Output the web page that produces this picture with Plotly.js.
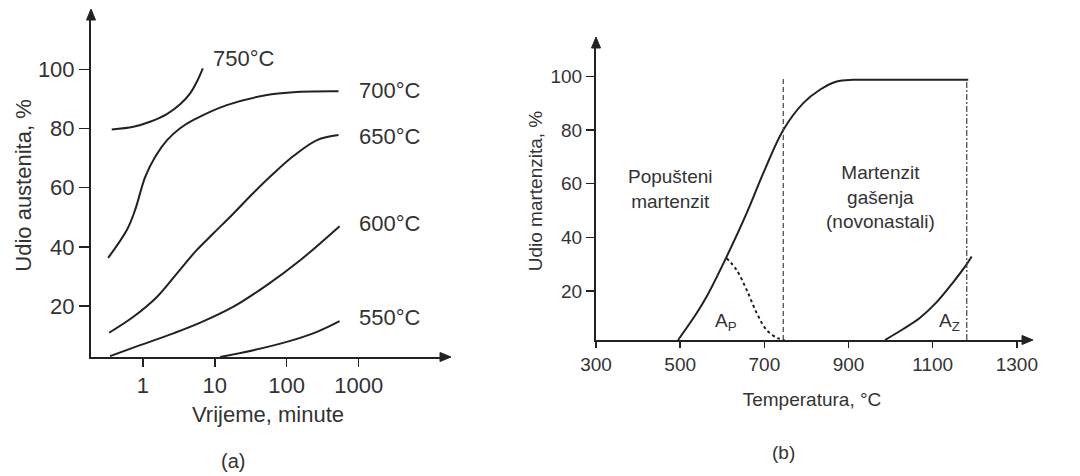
<!DOCTYPE html>
<html>
<head>
<meta charset="utf-8">
<script src="https://cdn.plot.ly/plotly-3.0.1.min.js"></script>
<style>html,body{margin:0;padding:0;background:#fff;}#chart{width:1080px;height:476px;}</style>
</head>
<body>
<div id="chart"></div>
<script>
// ---- Panel (a): austenite fraction vs time (log minutes) ----
const t750 = [0.37, 0.74, 1.26, 2.16, 3.3, 4.55, 5.64, 6.83];
const a750 = [79.7, 80.6, 82.3, 84.9, 88.2, 91.9, 95.8, 100.3];
const t700 = [0.33, 0.6, 0.78, 1.08, 1.48, 2.16, 3.3, 5.0, 14.7, 53, 154, 525];
const a700 = [36.3, 45.7, 52.4, 63.7, 70.4, 76.0, 80.1, 82.8, 87.9, 91.3, 92.4, 92.6];
const t650 = [0.34, 0.74, 1.57, 2.97, 5.6, 9.6, 18.2, 34.6, 65.5, 124, 264, 525];
const a650 = [11.0, 16.4, 23.1, 31.0, 38.9, 44.6, 51.3, 58.3, 64.8, 70.7, 76.1, 77.8];
const t600 = [0.35, 0.92, 2.67, 6.3, 18.2, 53, 154, 543];
const a600 = [3.1, 6.8, 10.8, 14.4, 19.8, 27.1, 35.5, 47.0];
const t550 = [11.9, 34.6, 100, 264, 543];
const a550 = [2.8, 5.1, 7.9, 11.3, 14.9];
const curveLabelsA = ["750°C", "700°C", "650°C", "600°C", "550°C"];
const labelTimeA = [8.9, 955, 955, 955, 955];
const labelValA = [103.8, 93.0, 77.4, 48.0, 16.0];
const xTicksA = [1, 10, 100, 1000];
const xTickTextA = ["1", "10", "100", "1000"];
const yTicks = [20, 40, 60, 80, 100];

// ---- Panel (b): martensite fraction vs temperature ----
const tempMain = [495, 539, 563, 610.5, 658, 697.5, 745, 792.5, 832, 872, 911, 950, 1184.5];
const martMain = [1.7, 11.7, 17.9, 32.8, 49, 63.9, 80, 90, 95, 98.1, 98.7, 98.7, 98.7];
const tempAp = [610.5, 634, 658, 682, 705.6, 733, 748];
const martAp = [32.2, 27.8, 20.4, 11.7, 5.4, 2.3, 1.7];
const tempAz = [986.6, 1030, 1070, 1109.5, 1149, 1181, 1192.6];
const martAz = [1.7, 5.8, 10.0, 15.8, 23.3, 30.0, 32.8];
const vDashX = [745, 745], vDashY = [1.7, 100];
const vDashDotX = [1181, 1181], vDashDotY = [1.7, 98.7];
const xTicksB = [300, 500, 700, 900, 1100, 1300];

const FONT = "Liberation Sans, Arial, Helvetica, sans-serif";
const INK = "#222";
const TXT = "#333";
const FA = 22, FB = 19;

function line(x, y, xa, ya, opts) {
  return Object.assign({
    x: x, y: y, xaxis: xa, yaxis: ya, type: "scatter", mode: "lines",
    line: {color: INK, width: 2, shape: "spline", smoothing: 1}, cliponaxis: false,
    hoverinfo: "skip", showlegend: false
  }, opts || {});
}

const traces = [
  line(t750, a750, "x", "y"),
  line(t700, a700, "x", "y"),
  line(t650, a650, "x", "y"),
  line(t600, a600, "x", "y"),
  line(t550, a550, "x", "y"),
  line(tempMain, martMain, "x2", "y2"),
  line(tempAp, martAp, "x2", "y2", {line: {color: INK, width: 2, dash: "dot", shape: "spline"}}),
  line(tempAz, martAz, "x2", "y2"),
  line(vDashX, vDashY, "x2", "y2", {line: {color: "#444", width: 1.2, dash: "5px,3px"}}),
  line(vDashDotX, vDashDotY, "x2", "y2", {line: {color: "#444", width: 1.2, dash: "6px,2px,2px,2px"}})
];

const W = 1080, H = 476;
const px = v => v / W, py = v => 1 - v / H;

const axisCommon = {
  showline: true, linecolor: INK, linewidth: 2, showgrid: false, zeroline: false,
  ticks: "outside", tickcolor: INK, tickwidth: 1.5, fixedrange: true
};

const annotations = [];
curveLabelsA.forEach((s, i) => annotations.push({
  text: s, xref: "x", yref: "y", x: Math.log10(labelTimeA[i]), y: labelValA[i],
  xanchor: "left", yanchor: "middle", showarrow: false, font: {family: FONT, size: FA, color: TXT}
}));
annotations.push(
  {text: "Popušteni<br>martenzit", xref: "x2", yref: "y2", x: 476, y: 58, showarrow: false,
   xanchor: "center", yanchor: "middle", font: {family: FONT, size: FB, color: TXT}, align: "center"},
  {text: "Martenzit<br>gašenja<br>(novonastali)", xref: "x2", yref: "y2", x: 975, y: 55, showarrow: false,
   xanchor: "center", yanchor: "middle", font: {family: FONT, size: FB, color: TXT}, align: "center"},
  {text: "A<sub>P</sub>", xref: "x2", yref: "y2", x: 610, y: 8.5, showarrow: false,
   xanchor: "center", yanchor: "middle", font: {family: FONT, size: FB, color: TXT}},
  {text: "A<sub>Z</sub>", xref: "x2", yref: "y2", x: 1141, y: 8.5, showarrow: false,
   xanchor: "center", yanchor: "middle", font: {family: FONT, size: FB, color: TXT}},
  {text: "(a)", xref: "paper", yref: "paper", x: px(233), y: py(461), showarrow: false,
   xanchor: "center", yanchor: "middle", borderpad: 0, font: {family: FONT, size: 20, color: TXT}},
  {text: "(b)", xref: "paper", yref: "paper", x: px(783), y: py(452), showarrow: false,
   xanchor: "center", yanchor: "middle", font: {family: FONT, size: FB, color: TXT}}
);

// arrow heads at the ends of the axes (decoration, paper coords)
function head(tx, ty, dir) {
  const L = 11, Wd = 4.5;
  let pts;
  if (dir === "right") pts = [[tx, ty], [tx - L, ty - Wd], [tx - L, ty + Wd]];
  else pts = [[tx, ty], [tx - Wd, ty + L], [tx + Wd, ty + L]];
  const p = pts.map((q, i) => (i ? "L" : "M") + px(q[0]) + "," + py(q[1])).join(" ") + " Z";
  return {type: "path", xref: "paper", yref: "paper", path: p, fillcolor: INK, line: {color: INK, width: 1}};
}
const shapes = [head(451, 357, "right"), head(91, 9, "up"), head(1033, 340, "right"), head(596, 37, "up")];

const layout = {
  width: W, height: H, margin: {l: 0, r: 0, t: 0, b: 0},
  paper_bgcolor: "#fff", plot_bgcolor: "#fff", showlegend: false,
  font: {family: FONT, color: TXT},
  xaxis: Object.assign({}, axisCommon, {
    type: "log", domain: [px(91), px(445)], range: [-0.72, 4.2], anchor: "y",
    tickvals: xTicksA, ticktext: xTickTextA, ticklen: 8, tickfont: {family: FONT, size: FA, color: TXT},
    title: {text: "Vrijeme, minute", font: {family: FONT, size: FA, color: TXT}, standoff: 9}
  }),
  yaxis: Object.assign({}, axisCommon, {
    domain: [py(357), py(14)], range: [2.8, 118.7], anchor: "x",
    tickvals: yTicks, ticklen: 10, tickfont: {family: FONT, size: FA, color: TXT},
    title: {text: "Udio austenita, %", font: {family: FONT, size: FA, color: TXT}, standoff: 0}
  }),
  xaxis2: Object.assign({}, axisCommon, {
    domain: [px(596), px(1028)], range: [300, 1326.5], anchor: "y2",
    tickvals: xTicksB, ticklen: 6, tickfont: {family: FONT, size: FB, color: TXT},
    title: {text: "Temperatura, °C", font: {family: FONT, size: FB, color: TXT}, standoff: 19}
  }),
  yaxis2: Object.assign({}, axisCommon, {
    domain: [py(340), py(42)], range: [1.7, 112.8], anchor: "x2",
    tickvals: yTicks, ticklen: 8, tickfont: {family: FONT, size: FB, color: TXT},
    title: {text: "Udio martenzita, %", font: {family: FONT, size: FB, color: TXT}, standoff: 3}
  }),
  shapes: shapes,
  annotations: annotations
};

Plotly.newPlot("chart", traces, layout, {staticPlot: true, displayModeBar: false});
</script>
</body>
</html>
